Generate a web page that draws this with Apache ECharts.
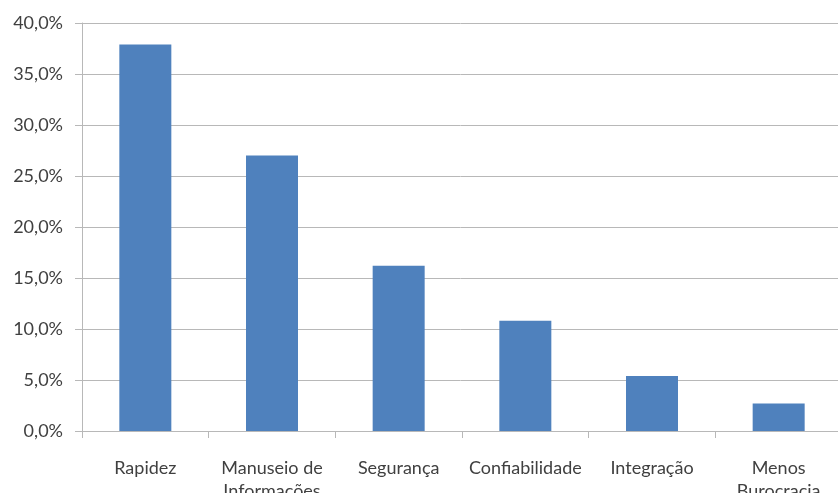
<!DOCTYPE html>
<html>
<head>
<meta charset="utf-8">
<script src="https://cdn.jsdelivr.net/npm/echarts@6/dist/echarts.min.js"></script>
<style>
  html, body { margin: 0; padding: 0; background: #fff; }
  #chart { width: 838px; height: 493px; }
</style>
</head>
<body>
<div id="chart"></div>
<script>
// Benefits cited, share of responses (%)
const categories = ['Rapidez', 'Manuseio de\nInformações', 'Segurança', 'Confiabilidade', 'Integração', 'Menos\nBurocracia'];
const shares = [37.9, 27.0, 16.2, 10.8, 5.4, 2.7];

const chart = echarts.init(document.getElementById('chart'));
const labelFont = { color: '#404040', fontFamily: 'Lato, "Open Sans", sans-serif', fontSize: 18 };

chart.setOption({
  animation: false,
  grid: { left: 82, top: 23, width: 760, bottom: 62, containLabel: false, outerBoundsMode: 'none' },
  xAxis: {
    type: 'category',
    data: categories,
    axisLine: { lineStyle: { color: '#b8b8b8', width: 1 } },
    axisTick: { show: true, length: 7, lineStyle: { color: '#b8b8b8' } },
    axisLabel: Object.assign({ margin: 26, lineHeight: 23, interval: 0 }, labelFont)
  },
  yAxis: {
    type: 'value',
    min: 0,
    max: 40,
    interval: 5,
    axisLine: { show: true, lineStyle: { color: '#b8b8b8', width: 1 } },
    axisTick: { show: true, length: 7, lineStyle: { color: '#b8b8b8' } },
    splitLine: { lineStyle: { color: '#b8b8b8', width: 1 } },
    axisLabel: Object.assign({
      margin: 19,
      formatter: v => v.toFixed(1).replace('.', ',') + '%'
    }, labelFont)
  },
  series: [{
    type: 'bar',
    data: shares,
    barWidth: 52,
    itemStyle: { color: '#4f81bd' }
  }]
});
</script>
</body>
</html>
